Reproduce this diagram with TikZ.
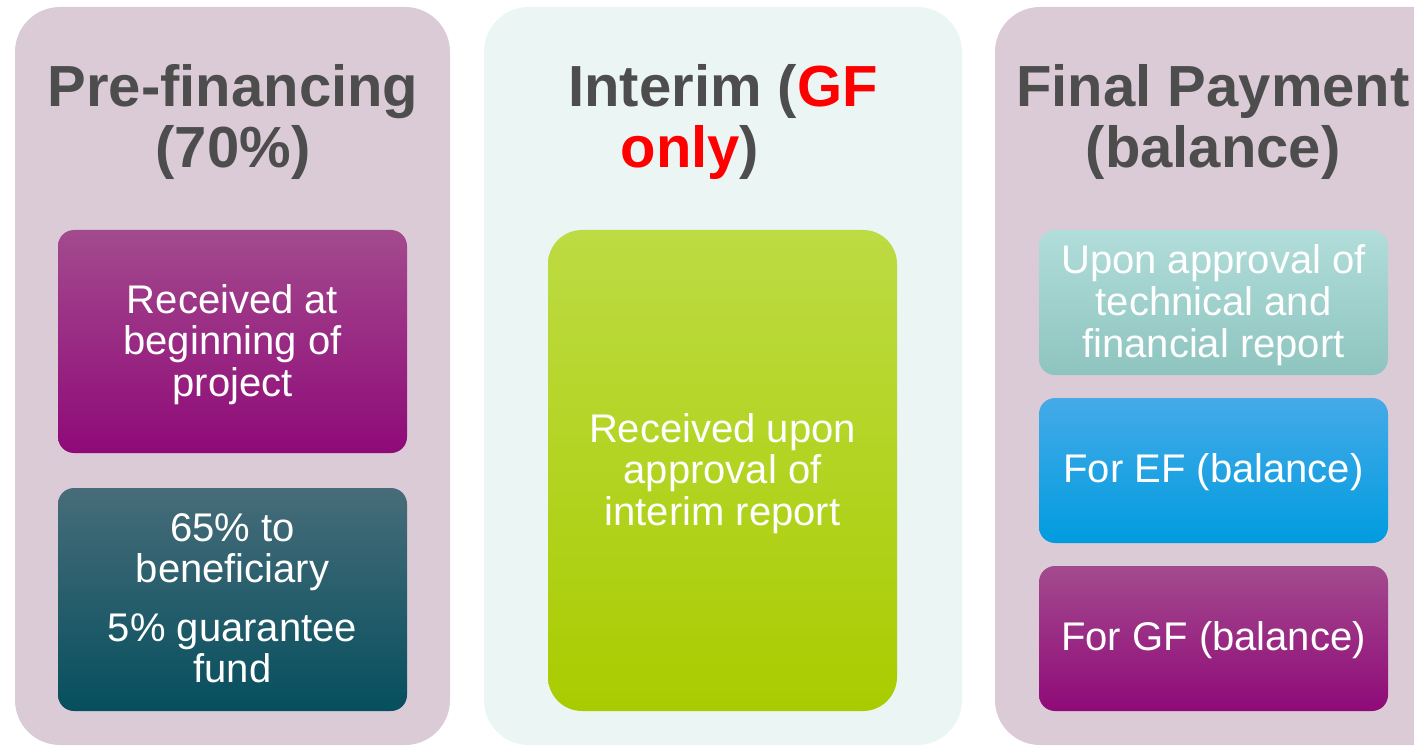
\documentclass[tikz,border=0pt]{standalone}
\usepackage{fontspec}
\setmainfont{Liberation Sans}
\definecolor{panelA}{HTML}{DBCBD7}
\definecolor{panelB}{HTML}{EBF5F4}
\definecolor{titlegray}{HTML}{4D4D4D}
\definecolor{magTop}{HTML}{A34A8E}
\definecolor{magMid}{HTML}{991A80}
\definecolor{magBot}{HTML}{8F0A78}
\definecolor{tealTop}{HTML}{476C79}
\definecolor{tealMid}{HTML}{0A5465}
\definecolor{tealBot}{HTML}{064F5E}
\definecolor{grnTop}{HTML}{BDDB43}
\definecolor{grnMid}{HTML}{B2D800}
\definecolor{grnBot}{HTML}{A9CC00}
\definecolor{aquaTop}{HTML}{B1DDDA}
\definecolor{aquaMid}{HTML}{A0D6D2}
\definecolor{aquaBot}{HTML}{8EC4BF}
\definecolor{bluTop}{HTML}{45AAE8}
\definecolor{bluMid}{HTML}{05A3E6}
\definecolor{bluBot}{HTML}{009CDF}
\definecolor{gfred}{HTML}{FF0000}
\begin{document}
\begin{tikzpicture}[x=1pt,y=-1pt,
  panel/.style={rectangle, rounded corners=45pt, inner sep=0pt, draw=none},
  ibox/.style={rectangle, rounded corners=16pt, inner sep=0pt, draw=none, minimum width=349pt},
  title/.style={anchor=north, inner sep=0pt, align=center, text=titlegray,
    font=\fontsize{58}{61}\selectfont\bfseries},
  body/.style={anchor=north, inner sep=0pt, align=center, text=white,
    font=\fontsize{40}{41.5}\selectfont},
  mag/.style={top color=magTop, middle color=magMid, bottom color=magBot},
]
\clip (0,0) rectangle (1414,746);
\useasboundingbox (0,0) rectangle (1414,746);
\fill[white] (0,0) rectangle (1414,746);

% panels
\node[panel, fill=panelA, minimum width=435pt, minimum height=738pt] (p1) at (232.5,376) {};
\node[panel, fill=panelB, minimum width=478pt, minimum height=738pt] (p2) at (723,376) {};
\node[panel, fill=panelA, minimum width=465pt, minimum height=738pt] (p3) at (1227.5,376) {};

% titles
\node[title] (t1) at (233,64) {Pre-financing\\(70\%)};
\node[title] (t2) at (723,64.5) {Interim ({\color{gfred}GF}\\{\color{gfred}only})\hspace*{66pt}};
\node[title] (t3) at (1213,64) {Final Payment\\(balance)};

% inner boxes
\node[ibox, mag, minimum height=223pt] (b1) at (232.5,341.5) {};
\node[ibox, top color=tealTop, middle color=tealMid, bottom color=tealBot, minimum height=223pt] (b2) at (232.5,599.5) {};
\node[ibox, rounded corners=34pt, top color=grnTop, middle color=grnMid, bottom color=grnBot, minimum height=481pt] (g1) at (722.5,470.5) {};
\node[ibox, top color=aquaTop, middle color=aquaMid, bottom color=aquaBot, minimum height=145pt] (b4) at (1213.5,302.5) {};
\node[ibox, top color=bluTop, middle color=bluMid, bottom color=bluBot, minimum height=145pt] (b5) at (1213.5,470.5) {};
\node[ibox, mag, minimum height=145pt] (b6) at (1213.5,638.5) {};

% texts
\node[body] (x1) at (232.5,284) {Received at\\beginning of\\project};
\node[body] (x2) at (232.5,513) {65\% to\\beneficiary\\[17pt]5\% guarantee\\fund};
\node[body] (x3) at (722.5,413) {Received upon\\approval of\\interim report};
\node[body, font=\fontsize{40}{42}\selectfont] (x4) at (1213.5,244) {Upon approval of\\technical and\\financial report};
\node[body] (x5) at (1213.5,453) {For EF (balance)};
\node[body] (x6) at (1213.5,621) {For GF (balance)};
\end{tikzpicture}
\end{document}
